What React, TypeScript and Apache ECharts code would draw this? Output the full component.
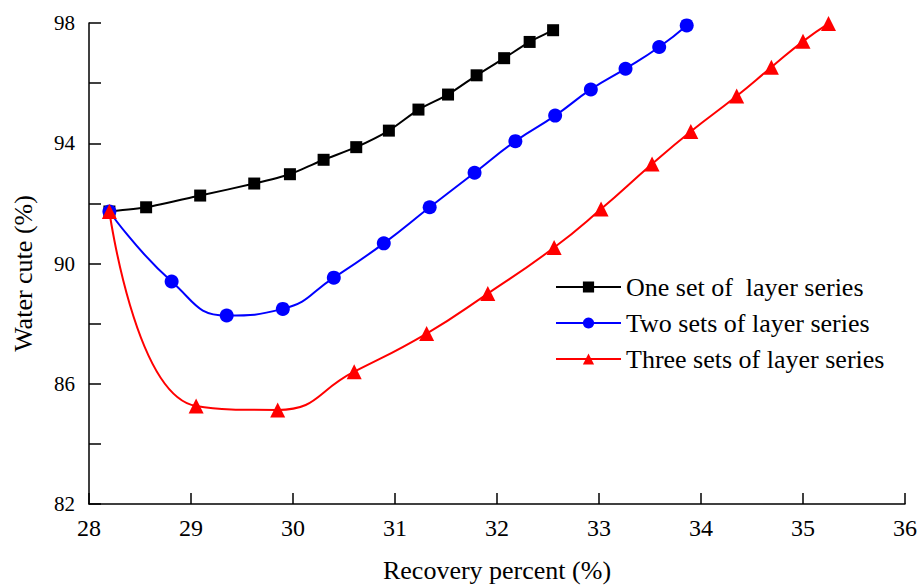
import React, { useEffect, useRef } from "react";
import * as echarts from "echarts";

const seriesNames = [
  "One set of  layer series",
  "Two sets of layer series",
  "Three sets of layer series",
];

const xOne = [28.2, 28.56, 29.09, 29.62, 29.97, 30.3, 30.62, 30.94, 31.23, 31.52, 31.8, 32.07, 32.32, 32.55];
const yOne = [91.73, 91.87, 92.26, 92.66, 92.97, 93.45, 93.87, 94.42, 95.12, 95.62, 96.26, 96.83, 97.37, 97.76];

const xTwo = [28.2, 28.81, 29.35, 29.9, 30.4, 30.89, 31.34, 31.78, 32.18, 32.57, 32.92, 33.26, 33.59, 33.86];
const yTwo = [91.73, 89.4, 88.27, 88.49, 89.53, 90.67, 91.87, 93.02, 94.07, 94.92, 95.79, 96.48, 97.2, 97.92];

const xThree = [28.2, 29.05, 29.85, 30.6, 31.31, 31.91, 32.56, 33.02, 33.52, 33.9, 34.35, 34.69, 35.0, 35.25];
const yThree = [91.73, 85.26, 85.13, 86.4, 87.67, 89.0, 90.53, 91.81, 93.31, 94.39, 95.57, 96.53, 97.39, 97.98];

const yLabelValues = [82, 86, 90, 94, 98];

const FONT = "'Liberation Serif', 'Times New Roman', serif";

function zip(xs: number[], ys: number[]) {
  return xs.map((x, i) => [x, ys[i]]);
}

export default function App() {
  const ref = useRef<HTMLDivElement>(null);
  useEffect(() => {
    if (!ref.current) return;
    const chart = echarts.init(ref.current, null, { renderer: "svg" });
    const axisLine = { show: true, lineStyle: { color: "#000", width: 1.5 } };
    chart.setOption({
      animation: false,
      backgroundColor: "#fff",
      textStyle: { fontFamily: FONT },
      grid: { left: 89, right: 12, top: 23, bottom: 82, outerBoundsMode: "none" },
      legend: {
        orient: "vertical",
        left: 550,
        top: 269,
        itemWidth: 65,
        itemHeight: 14,
        itemGap: 10,
        textStyle: { fontFamily: FONT, fontSize: 26, color: "#000" },
        data: seriesNames,
      },
      xAxis: {
        type: "value",
        min: 28,
        max: 36,
        interval: 1,
        name: "Recovery percent (%)",
        nameLocation: "middle",
        nameGap: 53,
        nameTextStyle: { fontFamily: FONT, fontSize: 26, color: "#000" },
        axisLine,
        axisTick: { show: true, inside: true, length: 11, lineStyle: { color: "#000", width: 1.5 } },
        axisLabel: { fontFamily: FONT, fontSize: 24, color: "#000", margin: 12 },
        splitLine: { show: false },
      },
      yAxis: {
        type: "value",
        min: 82,
        max: 98,
        interval: 2,
        name: "Water cute (%)",
        nameLocation: "middle",
        nameGap: 53,
        nameTextStyle: { fontFamily: FONT, fontSize: 26, color: "#000", padding: [0, 20, 0, 0] },
        axisLine,
        axisTick: { show: true, inside: true, length: 12, lineStyle: { color: "#000", width: 1.5 } },
        axisLabel: {
          fontFamily: FONT,
          fontSize: 21,
          color: "#000",
          margin: 14,
          formatter: (v: number) => (yLabelValues.includes(v) ? String(v) : ""),
        },
        splitLine: { show: false },
      },
      series: [
        {
          name: seriesNames[0],
          type: "line",
          data: zip(xOne, yOne),
          symbol: "rect",
          symbolSize: 12,
          smooth: 0.2,
          lineStyle: { color: "#000", width: 2 },
          itemStyle: { color: "#000" },
        },
        {
          name: seriesNames[1],
          type: "line",
          data: zip(xTwo, yTwo),
          symbol: "circle",
          symbolSize: 14,
          smooth: 0.5,
          lineStyle: { color: "#0000ff", width: 2 },
          itemStyle: { color: "#0000ff" },
        },
        {
          name: seriesNames[2],
          type: "line",
          data: zip(xThree, yThree),
          symbol: "triangle",
          symbolSize: 15,
          smooth: 0.5,
          lineStyle: { color: "#ff0000", width: 2 },
          itemStyle: { color: "#ff0000" },
        },
      ],
    });
    return () => chart.dispose();
  }, []);
  return (
    <div
      ref={ref}
      style={{ position: "fixed", left: 0, top: 0, width: 917, height: 586 }}
    />
  );
}
